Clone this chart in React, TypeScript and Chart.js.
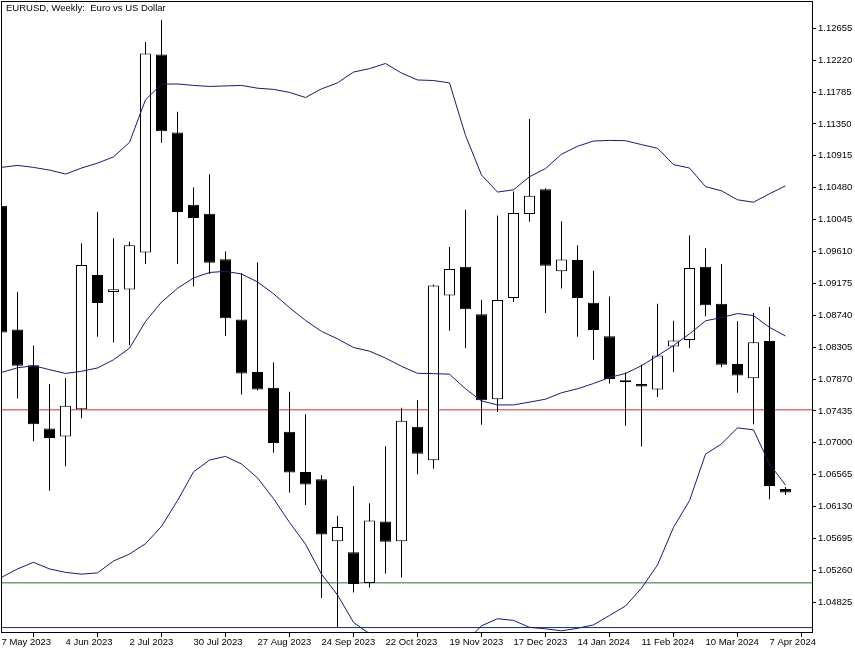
import React, { useEffect, useRef } from "react";
import { Chart, registerables } from "chart.js";

Chart.register(...registerables);

// ---- data ----
const weeks = [
  "7 May 2023", "14 May 2023", "21 May 2023", "28 May 2023", "4 Jun 2023", "11 Jun 2023", "18 Jun 2023", "25 Jun 2023",
  "2 Jul 2023", "9 Jul 2023", "16 Jul 2023", "23 Jul 2023", "30 Jul 2023", "6 Aug 2023", "13 Aug 2023", "20 Aug 2023",
  "27 Aug 2023", "3 Sep 2023", "10 Sep 2023", "17 Sep 2023", "24 Sep 2023", "1 Oct 2023", "8 Oct 2023", "15 Oct 2023",
  "22 Oct 2023", "29 Oct 2023", "5 Nov 2023", "12 Nov 2023", "19 Nov 2023", "26 Nov 2023", "3 Dec 2023", "10 Dec 2023",
  "17 Dec 2023", "24 Dec 2023", "31 Dec 2023", "7 Jan 2024", "14 Jan 2024", "21 Jan 2024", "28 Jan 2024", "4 Feb 2024",
  "11 Feb 2024", "18 Feb 2024", "25 Feb 2024", "3 Mar 2024", "10 Mar 2024", "17 Mar 2024", "24 Mar 2024", "31 Mar 2024",
  "7 Apr 2024", "14 Apr 2024",
];

const tickWeeks = [0, 4, 8, 12, 16, 20, 24, 28, 32, 36, 40, 44, 48];
const tickLabels = [
  "7 May 2023", "4 Jun 2023", "2 Jul 2023", "30 Jul 2023", "27 Aug 2023", "24 Sep 2023", "22 Oct 2023",
  "19 Nov 2023", "17 Dec 2023", "14 Jan 2024", "11 Feb 2024", "10 Mar 2024", "7 Apr 2024",
];

const priceTicks = [
  1.04825, 1.0526, 1.05695, 1.0613, 1.06565, 1.07, 1.07435, 1.0787, 1.08305, 1.0874,
  1.09175, 1.0961, 1.10045, 1.1048, 1.10915, 1.1135, 1.11785, 1.1222, 1.12655,
];

const openP = [
  1.10234, 1.08547, 1.08057, 1.07197, 1.07085, 1.07458, 1.09289, 1.09056, 1.09091, 1.09596,
  1.12296, 1.11233, 1.10248, 1.10126, 1.09505, 1.08682, 1.07966, 1.0775, 1.07152, 1.06603,
  1.06504, 1.05658, 1.05509, 1.05087, 1.05928, 1.05658, 1.0722, 1.06761, 1.0901, 1.09402,
  1.08754, 1.07593, 1.08975, 1.10122, 1.1046, 1.09339, 1.09492, 1.08911, 1.08452, 1.07827,
  1.07804, 1.07728, 1.08313, 1.08403, 1.09402, 1.08898, 1.08074, 1.07881, 1.08389, 1.06369,
];
const highP = [
  1.103, 1.09056, 1.08327, 1.07804, 1.07885, 1.09721, 1.10149, 1.09789, 1.09744, 1.12466,
  1.12768, 1.11517, 1.10482, 1.10662, 1.09609, 1.09312, 1.09461, 1.08097, 1.07696, 1.0739,
  1.06558, 1.06005, 1.0641, 1.06175, 1.06954, 1.0748, 1.07579, 1.09159, 1.09672, 1.1018,
  1.08952, 1.10099, 1.10428, 1.11418, 1.10473, 1.10023, 1.09694, 1.09348, 1.08997, 1.07962,
  1.08065, 1.08898, 1.08664, 1.09829, 1.09654, 1.09438, 1.08659, 1.08772, 1.08853, 1.06396,
];
const lowP = [
  1.0848, 1.07606, 1.07021, 1.06346, 1.0668, 1.07336, 1.08448, 1.08367, 1.08331, 1.09438,
  1.11094, 1.09438, 1.09132, 1.09303, 1.08457, 1.0766, 1.07714, 1.06864, 1.06324, 1.06153,
  1.04884, 1.04488, 1.0496, 1.05028, 1.05217, 1.05163, 1.06572, 1.06648, 1.08529, 1.0829,
  1.07247, 1.07422, 1.08921, 1.10014, 1.08772, 1.09105, 1.08448, 1.08133, 1.07808, 1.07233,
  1.0695, 1.07625, 1.07962, 1.0829, 1.08727, 1.0803, 1.07683, 1.07255, 1.06229, 1.06288,
];
const closeP = [
  1.08506, 1.08051, 1.07255, 1.07066, 1.07507, 1.09424, 1.08907, 1.09096, 1.09694, 1.12309,
  1.11251, 1.10149, 1.10068, 1.09456, 1.087, 1.07944, 1.07728, 1.06998, 1.06594, 1.06432,
  1.05748, 1.05851, 1.05073, 1.05941, 1.05649, 1.07301, 1.0685, 1.09145, 1.0937, 1.08821,
  1.07579, 1.08948, 1.10136, 1.10369, 1.09415, 1.09501, 1.08975, 1.08538, 1.07872, 1.07854,
  1.07768, 1.08192, 1.08394, 1.09384, 1.08875, 1.08065, 1.07917, 1.08371, 1.0641, 1.06324,
];

const bbUpper = [
  1.10757, 1.10784, 1.10757, 1.1072, 1.10666, 1.10748, 1.10815, 1.109, 1.11098, 1.11679,
  1.11891, 1.11895, 1.11875, 1.11861, 1.11868, 1.11875, 1.11837, 1.11821, 1.1178, 1.1171,
  1.11828, 1.11909, 1.12057, 1.12104, 1.12174, 1.12044, 1.11949, 1.11942, 1.11909, 1.11193,
  1.10653, 1.1042, 1.10451, 1.1063, 1.10741, 1.10937, 1.11045, 1.11116, 1.11125, 1.11121,
  1.11068, 1.11018, 1.10795, 1.10748, 1.10495, 1.10437, 1.10315, 1.10282, 1.10397, 1.10505,
];
const bbMiddle = [
  1.0796, 1.08023, 1.08052, 1.07998, 1.07946, 1.07976, 1.08021, 1.08133, 1.08291, 1.08655,
  1.0892, 1.09107, 1.09249, 1.09323, 1.09339, 1.09303, 1.09195, 1.09033, 1.08844, 1.08669,
  1.0852, 1.08419, 1.083, 1.0825, 1.08156, 1.08044, 1.07948, 1.07944, 1.07936, 1.07737,
  1.07571, 1.07517, 1.07517, 1.07555, 1.07595, 1.07683, 1.07737, 1.07809, 1.07892, 1.07946,
  1.08052, 1.08187, 1.08327, 1.08486, 1.08664, 1.08709, 1.08763, 1.08736, 1.08574, 1.08457,
];
const bbLower = [
  1.05165, 1.0528, 1.0537, 1.0528, 1.05233, 1.05209, 1.05226, 1.05388, 1.05483, 1.05624,
  1.0586, 1.06212, 1.06603, 1.06765, 1.06815, 1.06711, 1.06522, 1.06239, 1.05915, 1.05617,
  1.05209, 1.04925, 1.04551, 1.04396, 1.04137, 1.04043, 1.03949, 1.03945, 1.03962, 1.04281,
  1.04504, 1.04601, 1.04578, 1.04483, 1.04463, 1.04436, 1.0447, 1.04517, 1.04645, 1.04774,
  1.05017, 1.05334, 1.05847, 1.06212, 1.06846, 1.06985, 1.07204, 1.07177, 1.06711, 1.06423,
];

const redLevel = 1.0745;
const greenLevel = 1.0509;
const navyLevel = 1.0448;

// ---- view ----
const W = 855;
const H = 650;
const X_MIN = 0.03125;
const X_MAX = 50.65625;
const Y_MIN = 1.04406;
const Y_MAX = 1.12935;
const FONT = "'Liberation Sans', Arial, sans-serif";
const BAND = "#1a1a70";

const framePlugin = {
  id: "frame",
  afterDraw(chart: any) {
    const { ctx } = chart;
    ctx.save();
    ctx.strokeStyle = "#000";
    ctx.lineWidth = 1;
    ctx.strokeRect(1.5, 1.5, 811, 631);
    ctx.restore();
  },
};

export default function App() {
  const ref = useRef<HTMLCanvasElement | null>(null);

  useEffect(() => {
    if (!ref.current) return;
    const hline = (lvl: number, color: string, order: number) => ({
      type: "line" as const,
      label: "level " + lvl,
      data: [
        { x: X_MIN, y: lvl },
        { x: X_MAX, y: lvl },
      ],
      borderColor: color,
      borderWidth: 1,
      pointRadius: 0,
      tension: 0,
      order,
    });
    const band = (vals: number[], label: string) => ({
      type: "line" as const,
      label,
      data: vals.map((v, i) => ({ x: i, y: v })),
      borderColor: BAND,
      borderWidth: 1,
      pointRadius: 0,
      tension: 0,
      order: 0,
    });

    const chart = new Chart(ref.current, {
      type: "bar",
      data: {
        datasets: [
          band(bbUpper, "BB upper"),
          band(bbMiddle, "BB middle"),
          band(bbLower, "BB lower"),
          {
            type: "bar",
            label: "Body",
            data: openP.map((o, i) => ({ x: i, y: [o, closeP[i]] })),
            backgroundColor: openP.map((o, i) => (closeP[i] >= o ? "#ffffff" : "#000000")),
            borderColor: "#000000",
            borderWidth: 1,
            borderSkipped: false,
            barThickness: 11,
            grouped: false,
            inflateAmount: 0,
            order: 1,
          } as any,
          {
            type: "bar",
            label: "Wick",
            data: highP.map((h, i) => ({ x: i, y: [lowP[i], h] })),
            backgroundColor: "#000000",
            borderWidth: 0,
            barThickness: 1,
            grouped: false,
            inflateAmount: 0,
            order: 2,
          } as any,
          hline(redLevel, "#c83232", 3),
          hline(greenLevel, "#2f6e2f", 4),
          hline(navyLevel, "#1c2878", 5),
        ],
      },
      options: {
        animation: false,
        responsive: false,
        maintainAspectRatio: false,
        devicePixelRatio: 1,
        layout: { padding: { left: 2, top: 1, right: 0, bottom: 0 } },
        plugins: {
          legend: { display: false },
          tooltip: { enabled: false },
          title: { display: false },
        },
        scales: {
          x: {
            type: "linear",
            position: "bottom",
            min: X_MIN,
            max: X_MAX,
            offset: false,
            afterBuildTicks: (s: any) => {
              s.ticks = tickWeeks.map((v) => ({ value: v }));
            },
            afterFit: (s: any) => {
              s.height = 17;
            },
            grid: {
              display: true,
              drawOnChartArea: false,
              drawTicks: true,
              tickLength: 4,
              color: "#000",
              lineWidth: 1,
            },
            border: { display: false },
            ticks: {
              autoSkip: false,
              maxRotation: 0,
              minRotation: 0,
              align: "start",
              padding: 0,
              color: "#000",
              font: { family: FONT, size: 9.5 },
              callback: (v: any) => {
                const i = tickWeeks.indexOf(Number(v));
                return i >= 0 ? tickLabels[i] : "";
              },
            },
          },
          y: {
            type: "linear",
            position: "right",
            min: Y_MIN,
            max: Y_MAX,
            afterBuildTicks: (s: any) => {
              s.ticks = priceTicks.map((v) => ({ value: v }));
            },
            afterFit: (s: any) => {
              s.width = 43;
            },
            grid: {
              display: true,
              drawOnChartArea: false,
              drawTicks: true,
              tickLength: 4,
              color: "#000",
              lineWidth: 1,
            },
            border: { display: false },
            ticks: {
              padding: 2,
              color: "#000",
              font: { family: FONT, size: 9.5 },
              callback: (v: any) => Number(v).toFixed(5),
            },
          },
        },
      } as any,
      plugins: [framePlugin],
    });
    return () => chart.destroy();
  }, []);

  return (
    <div style={{ position: "absolute", left: 0, top: 0, width: W, height: H, background: "#fff" }}>
      <canvas ref={ref} width={W} height={H} style={{ display: "block", width: W, height: H }} />
      <div
        style={{
          position: "absolute",
          left: 6,
          top: 2,
          font: `9.5px ${FONT}`,
          color: "#000",
          whiteSpace: "pre",
        }}
      >
        {"EURUSD, Weekly:  Euro vs US Dollar"}
      </div>
    </div>
  );
}
